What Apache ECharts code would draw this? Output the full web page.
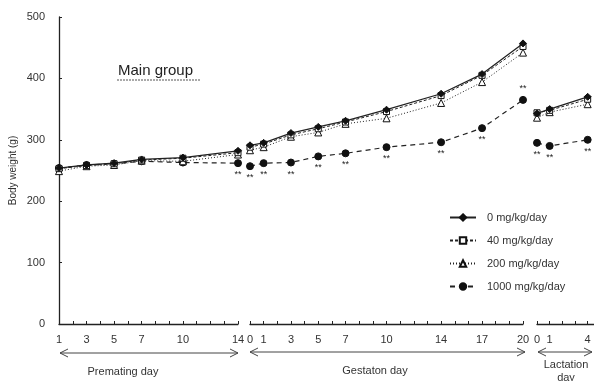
<!DOCTYPE html>
<html>
<head>
<meta charset="utf-8">
<script src="https://cdn.jsdelivr.net/npm/echarts@6/dist/echarts.min.js"></script>
<style>
  html, body { margin: 0; padding: 0; background: #fff; }
  #chart { width: 594px; height: 381px; }
</style>
</head>
<body>
<div id="chart"></div>
<script>
// days for the three periods
var premDays = [1, 3, 5, 7, 10, 14];
var gestDays = [0, 1, 3, 5, 7, 10, 14, 17, 20];
var lactDays = [0, 1, 4];

// tick labels shown on each x axis
var premLabels = [1, 3, 5, 7, 10, 14];
var gestLabels = [0, 1, 3, 5, 7, 10, 14, 17, 20];
var lactLabels = [0, 1, 4];

// body weight (g)
var dose0Prem = [254, 259, 262, 268, 271, 282];
var dose0Gest = [291, 295, 311, 321, 331, 349, 375, 407, 457];
var dose0Lact = [343, 350, 370];

var dose40Prem = [253, 258, 261, 267, 270, 279];
var dose40Gest = [288, 293, 308, 318, 329, 346, 372, 405, 452];
var dose40Lact = [344, 348, 366];

var dose200Prem = [249, 257, 259, 266, 265, 276];
var dose200Gest = [283, 288, 305, 312, 326, 335, 360, 394, 442];
var dose200Lact = [336, 345, 358];

var dose1000Prem = [254, 259, 261, 265, 263, 262];
var dose1000Gest = [257, 262, 263, 273, 278, 288, 296, 319, 365];
var dose1000Lact = [295, 290, 300];

// significance marks for 1000 mg/kg/day
var sigPrem = ['', '', '', '', '', '**'];
var sigGest = ['**', '**', '**', '**', '**', '**', '**', '**', '**'];
var sigLact = ['**', '**', '**'];

var groups = [
    { name: '0 mg/kg/day', data: [dose0Prem, dose0Gest, dose0Lact], symbol: 'diamond', size: 7, fill: '#111', line: 'solid', width: 1.3 },
    { name: '40 mg/kg/day', data: [dose40Prem, dose40Gest, dose40Lact], symbol: 'rect', size: 6, fill: '#fff', line: [3, 2], width: 1 },
    { name: '200 mg/kg/day', data: [dose200Prem, dose200Gest, dose200Lact], symbol: 'triangle', size: 7, fill: '#fff', line: [1, 2], width: 1 },
    { name: '1000 mg/kg/day', data: [dose1000Prem, dose1000Gest, dose1000Lact], symbol: 'circle', size: 7, fill: '#111', line: [5, 4], width: 1.2 }
];
var dayLists = [premDays, gestDays, lactDays];
var sigLists = [sigPrem, sigGest, sigLact];

function pairs(xs, ys) {
    return xs.map(function (x, i) { return [x, ys[i]]; });
}

var series = [];
groups.forEach(function (g, gi) {
    for (var p = 0; p < 3; p++) {
        var s = {
            name: g.name,
            type: 'line',
            xAxisIndex: p,
            yAxisIndex: p,
            data: pairs(dayLists[p], g.data[p]),
            symbol: g.symbol,
            symbolSize: g.size,
            itemStyle: { color: g.fill, borderColor: '#111', borderWidth: 1 },
            lineStyle: { color: '#222', width: g.width, type: g.line },
            z: 10 - gi
        };
        if (gi == 3) {
            var sig = sigLists[p];
            var last = dayLists[p].length - 1;
            s.label = {
                show: true,
                fontSize: 9,
                color: '#222',
                distance: 3,
                position: 'bottom',
                formatter: function (sig) {
                    return function (prm) { return sig[prm.dataIndex]; };
                }(sig)
            };
            if (p == 1) {
                s.data[last] = { value: s.data[last], label: { position: 'top' } };
            }
        }
        series.push(s);
    }
});

var axisCommon = {
    type: 'value',
    interval: 1,
    axisLine: { lineStyle: { color: '#222', width: 1.3 } },
    axisTick: { inside: true, length: 3, lineStyle: { color: '#222' } },
    splitLine: { show: false },
    axisLabel: { color: '#333', fontSize: 11, fontFamily: 'Liberation Sans', margin: 10 }
};

function xAxis(idx, min, max, labels) {
    var a = JSON.parse(JSON.stringify(axisCommon));
    a.gridIndex = idx;
    a.min = min;
    a.max = max;
    a.axisLabel.customValues = labels;
    return a;
}

function yAxis(idx, shown) {
    return {
        type: 'value',
        gridIndex: idx,
        min: 0,
        max: 500,
        interval: 100,
        show: shown,
        name: shown ? 'Body weight (g)' : '',
        nameLocation: 'middle',
        nameGap: 41,
        nameTextStyle: { color: '#333', fontSize: 10, fontFamily: 'Liberation Sans' },
        axisLine: { show: true, lineStyle: { color: '#222', width: 1.3 } },
        axisTick: { show: true, inside: true, length: 3, lineStyle: { color: '#222' } },
        splitLine: { show: false },
        axisLabel: { color: '#333', fontSize: 11, fontFamily: 'Liberation Sans', margin: 14 }
    };
}

function arrow(x1, x2, y) {
    return [
        { type: 'line', shape: { x1: x1, y1: y, x2: x2, y2: y }, style: { stroke: '#444', lineWidth: 1 } },
        { type: 'polyline', shape: { points: [[x1 + 8, y - 4], [x1, y], [x1 + 8, y + 4]] }, style: { stroke: '#444', fill: null, lineWidth: 1 } },
        { type: 'polyline', shape: { points: [[x2 - 8, y - 4], [x2, y], [x2 - 8, y + 4]] }, style: { stroke: '#444', fill: null, lineWidth: 1 } }
    ];
}

var textStyle = { fill: '#333', fontSize: 11, fontFamily: 'Liberation Sans', textAlign: 'center' };
var graphics = [].concat(
    arrow(60, 238, 353),
    arrow(250, 525, 352),
    arrow(538, 592, 352),
    [
        { type: 'text', style: Object.assign({ text: 'Premating day', x: 123, y: 366 }, textStyle) },
        { type: 'text', style: Object.assign({ text: 'Gestaton day', x: 375, y: 365 }, textStyle) },
        { type: 'text', style: Object.assign({ text: 'Lactation', x: 566, y: 359 }, textStyle) },
        { type: 'text', style: Object.assign({ text: 'day', x: 566, y: 372 }, textStyle) },
        { type: 'text', style: { text: 'Main group', x: 118, y: 63, fill: '#222', fontSize: 15, fontFamily: 'Liberation Sans' } },
        { type: 'line', shape: { x1: 117, y1: 80, x2: 201, y2: 80 }, style: { stroke: '#555', lineWidth: 1, lineDash: [2, 1] } }
    ]
);

var chart = echarts.init(document.getElementById('chart'));
chart.setOption({
    animation: false,
    backgroundColor: '#fff',
    grid: [
        { left: 59, width: 179, top: 17, bottom: 57 },
        { left: 250, width: 273, top: 17, bottom: 57 },
        { left: 537, width: 57, top: 17, bottom: 57 }
    ],
    xAxis: [
        xAxis(0, 1, 14, premLabels),
        xAxis(1, 0, 20, gestLabels),
        xAxis(2, 0, 4.5, lactLabels)
    ],
    yAxis: [yAxis(0, true), yAxis(1, false), yAxis(2, false)],
    legend: {
        orient: 'vertical',
        left: 444,
        top: 207,
        itemWidth: 26,
        itemHeight: 8,
        itemGap: 12,
        data: groups.map(function (g) { return g.name; }),
        textStyle: { color: '#333', fontSize: 11, fontFamily: 'Liberation Sans', padding: [0, 0, 0, 6] }
    },
    graphic: graphics,
    series: series
});
</script>
</body>
</html>
